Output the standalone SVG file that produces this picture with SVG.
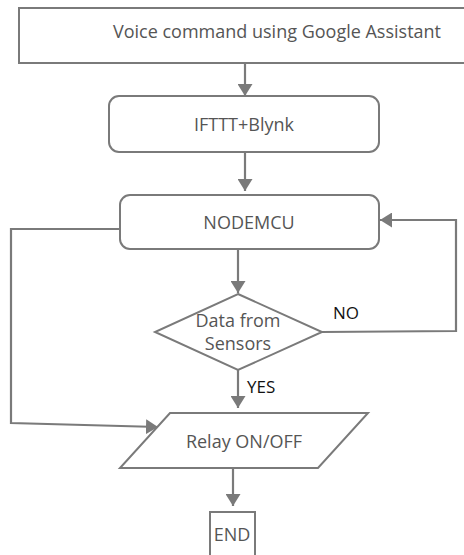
<svg xmlns="http://www.w3.org/2000/svg" width="464" height="555" viewBox="0 0 464 555">
<style>
.box{fill:#fff;stroke:#7a7a7a;stroke-width:2}
.ln{fill:none;stroke:#7a7a7a;stroke-width:2.2}
.t{font-family:"Open Sans","Noto Sans",sans-serif;font-size:18px;fill:#555;text-anchor:middle}
.lab{font-family:"Open Sans","Noto Sans",sans-serif;font-size:17px;fill:#111}
</style>
<defs>
<marker id="ah" viewBox="0 0 12 15" refX="12" refY="7.5" markerWidth="12" markerHeight="15" markerUnits="userSpaceOnUse" orient="auto">
<path d="M0,0 L12,7.5 L0,15 z" fill="#7a7a7a"/>
</marker>
</defs>
<rect width="464" height="555" fill="#fff"/>
<g id="connectors">
<line class="ln" x1="245" y1="63" x2="245" y2="96" marker-end="url(#ah)"/>
<line class="ln" x1="245" y1="153" x2="245" y2="191" marker-end="url(#ah)"/>
<line class="ln" x1="238" y1="250" x2="238" y2="293" marker-end="url(#ah)"/>
<line class="ln" x1="238" y1="370" x2="238" y2="408" marker-end="url(#ah)"/>
<line class="ln" x1="233" y1="468" x2="233" y2="506" marker-end="url(#ah)"/>
<polyline class="ln" points="120,229 11,229 11,423 158,427" marker-end="url(#ah)"/>
<polyline class="ln" points="322,332 456,331 456,220 380,220" marker-end="url(#ah)"/>
<text class="lab" x="333" y="319">NO</text>
<text class="lab" x="247" y="393">YES</text>
</g>
<g id="voice">
<rect class="box" x="19" y="8" width="460" height="55"/>
<text class="t" x="277" y="38">Voice command using Google Assistant</text>
</g>
<g id="ifttt">
<rect class="box" x="109" y="96" width="270" height="56" rx="10"/>
<text class="t" x="244" y="131">IFTTT+Blynk</text>
</g>
<g id="nodemcu">
<rect class="box" x="120" y="195" width="259" height="54" rx="10"/>
<text class="t" x="249" y="229">NODEMCU</text>
</g>
<g id="decision">
<polygon class="box" points="238,294 322,332 238,370 155,332"/>
<text class="t" x="238" y="327">Data from</text>
<text class="t" x="238" y="350">Sensors</text>
</g>
<g id="relay">
<polygon class="box" points="170,413 368,413 318,468 120,468"/>
<text class="t" x="244" y="448">Relay ON/OFF</text>
</g>
<g id="end">
<rect class="box" x="210" y="512" width="45" height="50"/>
<text class="t" x="232" y="541">END</text>
</g>
</svg>
